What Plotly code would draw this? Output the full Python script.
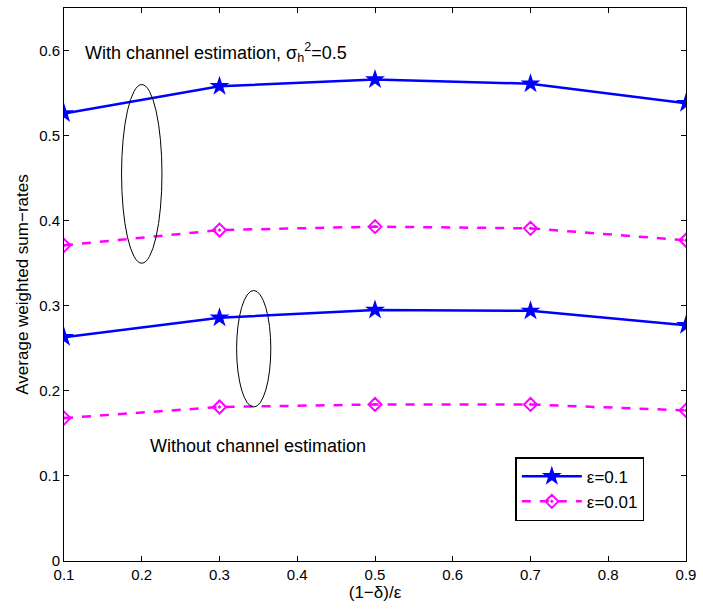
import plotly.graph_objects as go

x_vals = [0.1, 0.3, 0.5, 0.7, 0.9]
with_eps01 = [0.526, 0.558, 0.566, 0.561, 0.538]
with_eps001 = [0.371, 0.389, 0.393, 0.391, 0.377]
without_eps01 = [0.263, 0.286, 0.295, 0.294, 0.277]
without_eps001 = [0.168, 0.181, 0.184, 0.184, 0.177]

x_ticks = [0.1, 0.2, 0.3, 0.4, 0.5, 0.6, 0.7, 0.8, 0.9]
y_ticks = [0, 0.1, 0.2, 0.3, 0.4, 0.5, 0.6]

# ellipses (x0, x1, y0, y1) in data units
ellipse_with = [0.174, 0.226, 0.350, 0.560]
ellipse_without = [0.322, 0.366, 0.181, 0.318]

BLUE = "#0000ff"
MAG = "#ff00ff"
FONT = "Liberation Sans, Arial, sans-serif"

fig = go.Figure()
fig.add_trace(go.Scatter(x=x_vals, y=with_eps01, mode="lines+markers", name="ε=0.1",
                         line=dict(color=BLUE, width=2.5),
                         marker=dict(symbol="star", size=15, color=BLUE, line=dict(width=0))))
fig.add_trace(go.Scatter(x=x_vals, y=with_eps001, mode="lines+markers", name="ε=0.01",
                         line=dict(color=MAG, width=2.5, dash="dash"),
                         marker=dict(symbol="diamond-open-dot", size=10, color=MAG, line=dict(width=2, color=MAG))))
fig.add_trace(go.Scatter(x=x_vals, y=without_eps01, mode="lines+markers", showlegend=False,
                         line=dict(color=BLUE, width=2.5),
                         marker=dict(symbol="star", size=15, color=BLUE, line=dict(width=0))))
fig.add_trace(go.Scatter(x=x_vals, y=without_eps001, mode="lines+markers", showlegend=False,
                         line=dict(color=MAG, width=2.5, dash="dash"),
                         marker=dict(symbol="diamond-open-dot", size=10, color=MAG, line=dict(width=2, color=MAG))))

for e in (ellipse_with, ellipse_without):
    fig.add_shape(type="circle", xref="x", yref="y", x0=e[0], x1=e[1], y0=e[2], y1=e[3],
                  line=dict(color="black", width=1))

fig.add_annotation(x=0.125, y=0.598, xref="x", yref="y", xanchor="left", yanchor="middle",
                   text="With channel estimation, σ<sub>h</sub><sup>2</sup>=0.5", showarrow=False,
                   font=dict(family=FONT, size=18, color="black"))
fig.add_annotation(x=0.2085, y=0.135, xref="x", yref="y", xanchor="left", yanchor="middle",
                   text="Without channel estimation", showarrow=False,
                   font=dict(family=FONT, size=18, color="black"))

axis_common = dict(showline=True, linecolor="black", linewidth=1, mirror="ticks",
                   ticks="inside", ticklen=5, tickcolor="black", showgrid=False, zeroline=False,
                   tickfont=dict(family=FONT, size=15, color="black"))

fig.update_xaxes(range=[0.1, 0.9], tickvals=x_ticks, ticktext=[f"{v:g}" for v in x_ticks],
                 title=dict(text="(1−δ)/ε", font=dict(family=FONT, size=17, color="black"), standoff=0),
                 **axis_common)
fig.update_yaxes(range=[0, 0.65], tickvals=y_ticks, ticktext=[f"{v:g}" for v in y_ticks],
                 title=dict(text="Average weighted sum−rates", font=dict(family=FONT, size=17, color="black"), standoff=6),
                 **axis_common)

fig.update_layout(
    width=703, height=609,
    margin=dict(l=64, r=12, t=7, b=48),
    plot_bgcolor="white", paper_bgcolor="white",
    legend=dict(x=0.933, y=0.072, xanchor="right", yanchor="bottom", bgcolor="white",
                bordercolor="black", borderwidth=1.5,
                font=dict(family=FONT, size=17, color="black"),
                tracegroupgap=0, itemwidth=60),
    showlegend=True,
)

fig.write_html("out.html")
